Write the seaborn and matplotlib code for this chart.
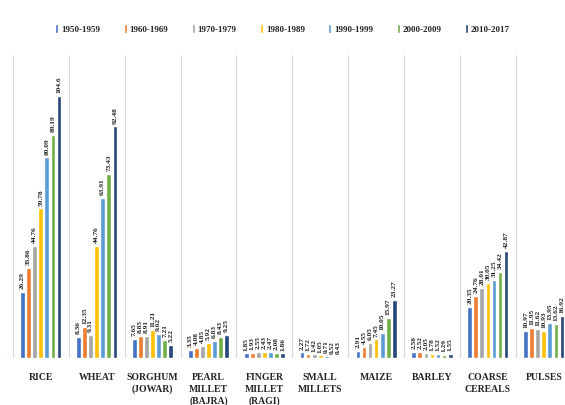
import matplotlib
matplotlib.use("Agg")
import matplotlib.pyplot as plt
import seaborn as sns
import pandas as pd

crops = ["RICE", "WHEAT", "SORGHUM\n(JOWAR)", "PEARL\nMILLET\n(BAJRA)", "FINGER\nMILLET\n(RAGI)",
         "SMALL\nMILLETS", "MAIZE", "BARLEY", "COARSE\nCEREALS", "PULSES"]
decades = ["1950-1959", "1960-1969", "1970-1979", "1980-1989", "1990-1999", "2000-2009", "2010-2017"]

v1950 = [26.29, 8.36, 7.65, 3.35, 1.85, 2.27, 2.91, 2.58, 20.35, 10.97]
v1960 = [35.86, 12.35, 8.85, 4.08, 1.93, 1.72, 4.55, 2.52, 24.76, 11.95]
v1970 = [44.76, 9.31, 8.91, 4.85, 2.55, 1.42, 6.05, 2.05, 28.01, 11.62]
v1980 = [59.78, 44.76, 11.21, 5.92, 2.43, 1.05, 7.45, 1.78, 30.05, 10.93]
v1990 = [80.09, 63.91, 9.62, 6.83, 2.47, 0.71, 10.05, 1.52, 31.25, 13.95]
v2000 = [89.19, 73.43, 7.21, 8.43, 2.08, 0.52, 15.97, 1.29, 34.42, 13.62]
v2010 = [104.6, 92.48, 5.22, 9.25, 1.86, 0.43, 23.27, 1.55, 42.87, 16.92]

series = [v1950, v1960, v1970, v1980, v1990, v2000, v2010]
colors = ["#4472C4", "#ED7D31", "#A5A5A5", "#FFC000", "#5B9BD5", "#70AD47", "#264478"]

rows = []
for d, vals in zip(decades, series):
    for c, v in zip(crops, vals):
        rows.append({"crop": c, "decade": d, "value": v})
df = pd.DataFrame(rows)

sns.set_theme(style="white")
plt.rcParams["font.family"] = ["Liberation Serif", "DejaVu Serif"]
plt.rcParams["font.weight"] = "bold"

fig = plt.figure(figsize=(5.65, 4.05), dpi=100)
W, H = 565, 405
top_px, base_px = 55, 358
ax = fig.add_axes([0, 1 - base_px / H, 1, (base_px - top_px) / H])

sns.barplot(data=df, x="crop", y="value", hue="decade", order=crops, hue_order=decades,
            palette=colors, width=0.76, gap=0.22, ax=ax, saturation=1, errorbar=None)

for cont in ax.containers:
    ax.bar_label(cont, fmt="%g", rotation=90, padding=2, fontsize=5.3,
                 fontweight="bold", color="#222222")

ax.set_xlim(-0.73, 9.38)
ax.set_ylim(0, 121)
for i in range(11):
    ax.axvline(i - 0.5, color="#d9d9d9", lw=0.8, zorder=0)
ax.axhline(0, color="#d9d9d9", lw=0.8, zorder=0)

for s in ax.spines.values():
    s.set_visible(False)
ax.set_yticks([])
ax.set_xlabel("")
ax.set_ylabel("")
ax.tick_params(axis="x", length=0, pad=11)
for lbl in ax.get_xticklabels():
    lbl.set_fontsize(7)
    lbl.set_fontweight("bold")
    lbl.set_verticalalignment("top")
    lbl.set_linespacing(1.35)

handles, labels = ax.get_legend_handles_labels()
ax.get_legend().remove()
fig.legend(handles, labels, loc="center", bbox_to_anchor=(0.5, 1 - 29 / H), ncol=7,
           frameon=False, handlelength=0.35, handleheight=1.1,
           handletextpad=0.3, columnspacing=2.6, prop={"weight": "bold", "size": 6.5})

fig.savefig("out.png", dpi=100)
